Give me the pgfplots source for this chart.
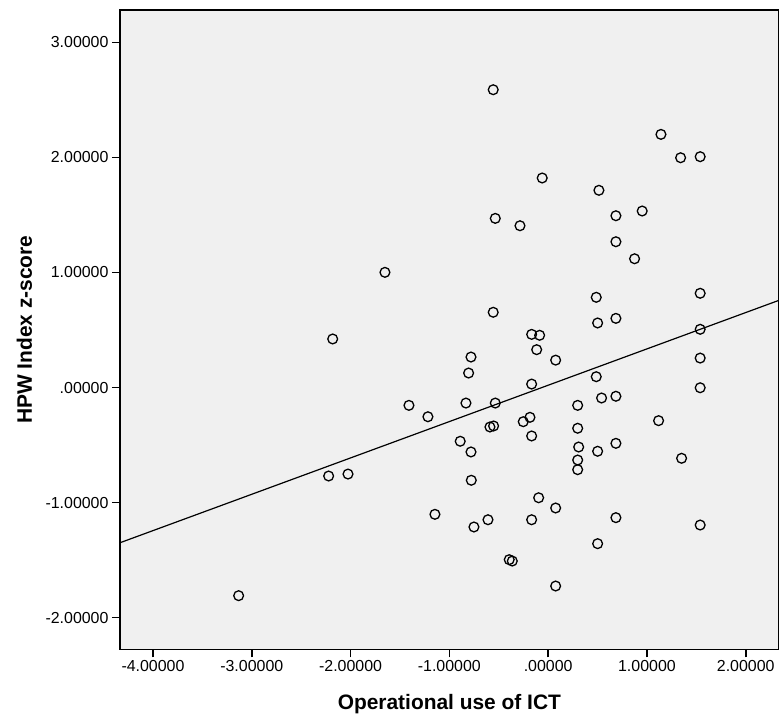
\documentclass[border=0pt]{standalone}
\usepackage{fontspec}
\setmainfont{Liberation Sans}
\usepackage{pgfplots}
\usepackage{pgfplotstable}
\pgfplotsset{compat=1.18}
\definecolor{plotbg}{HTML}{F0F0F0}

% Operational use of ICT (x) against HPW Index z-score (y)
\pgfplotstableread{
x y
-0.556 2.588
1.142 2.200
1.341 1.997
1.539 2.006
-0.060 1.821
0.514 1.714
-0.535 1.470
-0.285 1.406
0.686 1.493
0.952 1.534
0.686 1.267
0.875 1.119
0.487 0.784
1.539 0.819
-0.556 0.654
0.501 0.561
0.686 0.601
-0.167 0.462
-0.086 0.454
-0.116 0.329
1.539 0.506
-0.781 0.265
0.076 0.238
1.539 0.256
-0.805 0.126
-0.167 0.030
0.487 0.094
1.539 -0.002
-1.409 -0.155
-1.217 -0.254
-0.832 -0.135
-0.535 -0.135
0.299 -0.155
0.541 -0.091
0.686 -0.076
-0.589 -0.343
-0.552 -0.334
-0.252 -0.297
-0.184 -0.259
-0.167 -0.421
0.299 -0.354
1.118 -0.288
-0.890 -0.467
-0.781 -0.560
0.309 -0.517
0.501 -0.554
0.686 -0.485
0.299 -0.630
0.299 -0.714
1.351 -0.615
-0.778 -0.806
-0.096 -0.958
0.076 -1.047
-1.146 -1.102
-0.751 -1.212
-0.609 -1.149
-0.167 -1.149
0.686 -1.131
1.539 -1.195
0.501 -1.357
-0.394 -1.496
-0.363 -1.508
0.076 -1.725
-2.222 -0.769
-2.026 -0.752
-3.133 -1.809
-1.652 1.001
-2.181 0.422
}\scores

\begin{document}
\begin{tikzpicture}
\begin{axis}[
  at={(0,0)}, anchor=south west,
  scale only axis, width=658.7bp, height=639.3bp,
  xmin=-4.334, xmax=2.334, ymin=-2.275, ymax=3.281,
  axis background/.style={fill=plotbg},
  axis line style={line width=1.2bp, black},
  tick align=outside, major tick length=8bp,
  every tick/.style={black, line width=1.6bp},
  xtick pos=bottom, ytick pos=left,
  xtick={-4,-3,-2,-1,0,1,2},
  xticklabels={-4.00000,-3.00000,-2.00000,-1.00000,.00000,1.00000,2.00000},
  ytick={-2,-1,0,1,2,3},
  yticklabels={-2.00000,-1.00000,.00000,1.00000,2.00000,3.00000},
  tick label style={font=\fontsize{16}{16}\selectfont},
  xlabel={Operational use of ICT},
  ylabel={HPW Index z-score},
  label style={font=\fontsize{21}{21}\selectfont\bfseries},
  xlabel style={at={(rel axis cs:0.5,-0.0940)}, anchor=base},
  ylabel style={at={(rel axis cs:-0.1336,0.5)}, anchor=base},
]
\addplot[black, line width=1.2bp] coordinates {(-4.334,-1.349) (2.334,0.757)};
\addplot[only marks, mark=o, mark size=4.9bp,
  mark options={black, line width=1.3bp}] table[x=x, y=y] {\scores};
\end{axis}
\pgfresetboundingbox
\path (-120bp,-65.7bp) rectangle (664bp,649.3bp);
\end{tikzpicture}
\end{document}
